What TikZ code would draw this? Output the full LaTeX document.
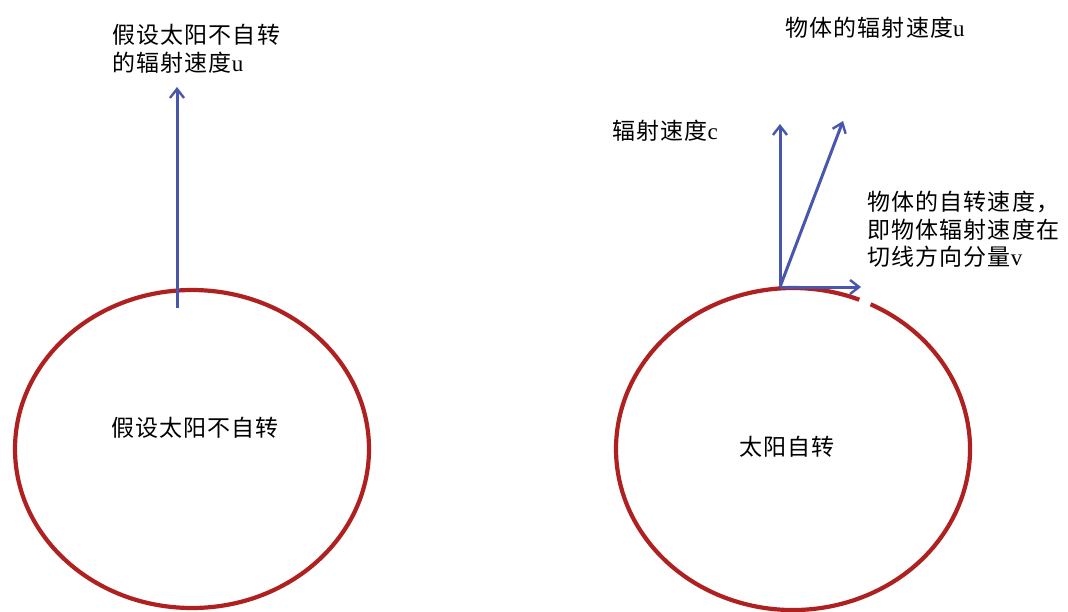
\documentclass[tikz,border=0pt]{standalone}
\usepackage{fontspec}
\newfontfamily\cjk[LetterSpace=5]{Noto Sans CJK SC}
\newfontfamily\lat{Liberation Serif}
\usetikzlibrary{arrows.meta}
\definecolor{sunred}{RGB}{175,32,32}
\definecolor{vecblue}{RGB}{72,86,172}
\begin{document}
\begin{tikzpicture}[x=1pt,y=-1pt,
  lbl/.style={font=\cjk\fontsize{23}{27.5}\selectfont, inner sep=0pt, align=left},
  sun/.style={draw=sunred, line width=4.2pt},
  vec/.style={draw=vecblue, line width=3pt, -{Straight Barb[length=9pt,width=14pt,line width=2.4pt]}}]
\useasboundingbox (0,0) rectangle (1068,611);
% left sun
\draw[sun] (192,449) ellipse[x radius=177, y radius=159];
\coordinate (l0) at (177,308);
\coordinate (l1) at (177,87);
\draw[vec] (l0) -- (l1);
\node[lbl, anchor=west] (ltop) at (112,48.5) {假设太阳不自转\\的辐射速度{\lat u}};
\node[lbl] (lmid) at (195,428) {假设太阳不自转};
% right sun
\draw[sun] (793,449) ++(-64:177 and 161) arc[start angle=-64, end angle=226, x radius=177, y radius=161];
\draw[sun] (793,449) ++(-68:177 and 161) arc[start angle=-68, end angle=-134, x radius=177, y radius=161];
\coordinate (o) at (780,287);
\coordinate (rc) at (780,124);
\coordinate (ru) at (843,121);
\coordinate (rv) at (861,287);
\draw[vec] (o) -- (rc);
\draw[vec] (o) -- (ru);
\draw[vec] (o) -- (rv);
\node[lbl] (tu) at (875,28) {物体的辐射速度{\lat u}};
\node[lbl] (tc) at (665,131) {辐射速度{\lat c}};
\node[lbl, anchor=west] (tv) at (867,229.5) {物体的自转速度，\\即物体辐射速度在\\切线方向分量{\lat v}};
\node[lbl] (rmid) at (787,447) {太阳自转};
\end{tikzpicture}
\end{document}
